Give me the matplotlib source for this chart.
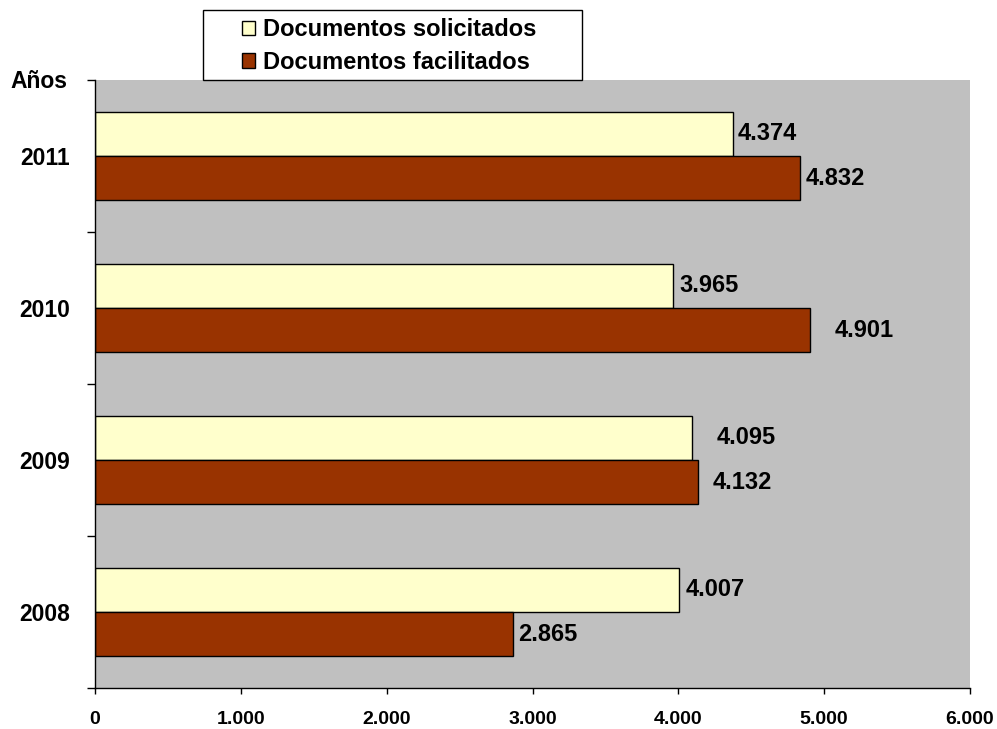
import matplotlib.pyplot as plt
import matplotlib.patches as mpatches
import numpy as np

# datos
anios = ['2008', '2009', '2010', '2011']
solicitados = [4007, 4095, 3965, 4374]
facilitados = [2865, 4132, 4901, 4832]
xticks_val = [0, 1000, 2000, 3000, 4000, 5000, 6000]
xticks_txt = ['0', '1.000', '2.000', '3.000', '4.000', '5.000', '6.000']

# pequenos desplazamientos de las etiquetas (en unidades del eje)
nudge_sol = [40, 170, 45, 35]
nudge_fac = [35, 100, 170, 40]

plt.rcParams['font.family'] = ['Liberation Sans', 'DejaVu Sans']
plt.rcParams['font.weight'] = 'bold'

W, H = 997, 729
fig = plt.figure(figsize=(9.97, 7.29), dpi=100)
ax = fig.add_axes([95 / W, 1 - 688 / H, 875 / W, 608 / H])
ax.set_facecolor('#C0C0C0')

y = np.arange(len(anios))
h = 0.29
b1 = ax.barh(y + h / 2, solicitados, height=h, color='#FFFFCC', edgecolor='black',
             linewidth=1, label='Documentos solicitados')
b2 = ax.barh(y - h / 2, facilitados, height=h, color='#993300', edgecolor='black',
             linewidth=1, label='Documentos facilitados')

for i in range(len(anios)):
    ax.text(solicitados[i] + nudge_sol[i], y[i] + h / 2, f'{solicitados[i]/1000:.3f}',
            va='center', ha='left', fontsize=17, fontweight='bold')
    ax.text(facilitados[i] + nudge_fac[i], y[i] - h / 2, f'{facilitados[i]/1000:.3f}',
            va='center', ha='left', fontsize=17, fontweight='bold')

ax.set_xlim(0, 6000)
ax.set_ylim(-0.5, len(anios) - 0.5)
ax.set_xticks(xticks_val)
ax.set_xticklabels(xticks_txt, fontsize=14, fontweight='bold')
ax.tick_params(axis='x', length=4.5, width=1, pad=12, direction='out')

ax.set_yticks(np.arange(-0.5, len(anios), 1.0))
ax.set_yticklabels([])
ax.set_yticks(y, minor=True)
ax.set_yticklabels(anios, minor=True, fontsize=16.5, fontweight='bold')
ax.tick_params(axis='y', which='major', length=6, width=1)
ax.tick_params(axis='y', which='minor', length=0, pad=18)

for s in ['top', 'right']:
    ax.spines[s].set_visible(False)
for s in ['left', 'bottom']:
    ax.spines[s].set_color('black')
    ax.spines[s].set_linewidth(1)

fig.text(38.5 / W, 1 - 81 / H, 'Años', ha='center', va='center', fontsize=16.5, fontweight='bold')

# caja de la leyenda
caja = mpatches.Rectangle((203 / W, 1 - 80 / H), 379 / W, 70 / H, transform=fig.transFigure,
                          facecolor='white', edgecolor='black', linewidth=1, zorder=3)
fig.patches.append(caja)

leg = fig.legend(handles=[b1, b2], loc='center left', bbox_to_anchor=(242 / W, 1 - 46 / H),
                 fontsize=17, frameon=False, handlelength=0.55, handleheight=0.55,
                 handletextpad=0.34, borderpad=0, labelspacing=0.42, borderaxespad=0)
leg.set_zorder(4)
for t in leg.get_texts():
    t.set_fontweight('bold')

plt.savefig('out.png', dpi=100)
